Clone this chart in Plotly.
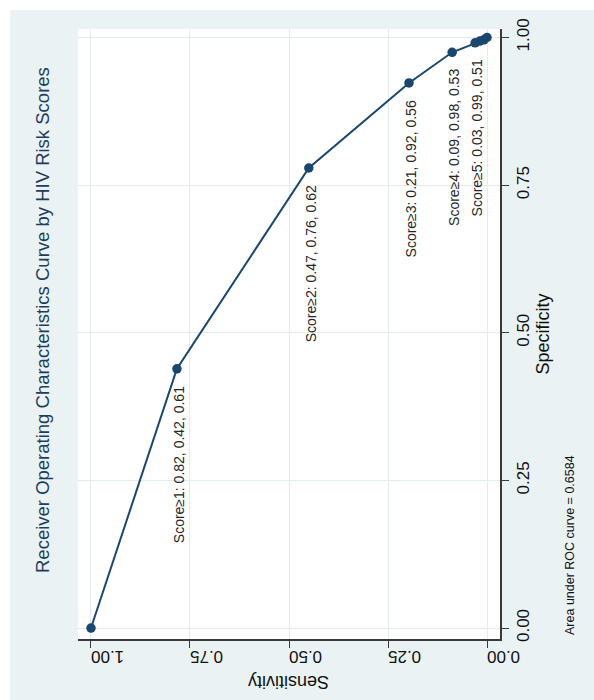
import plotly.graph_objects as go

# ---- data ----
sensitivity = [1.00, 0.783, 0.450, 0.197, 0.088, 0.030, 0.018, 0.008, 0.000]
specificity = [0.000, 0.439, 0.779, 0.923, 0.975, 0.991, 0.994, 0.996, 1.000]
label_index = [1, 2, 3, 4, 5]
label_text = [
    "Score≥1: 0.82, 0.42, 0.61",
    "Score≥2: 0.47, 0.76, 0.62",
    "Score≥3: 0.21, 0.92, 0.56",
    "Score≥4: 0.09, 0.98, 0.53",
    "Score≥5: 0.03, 0.99, 0.51",
]
tick_vals = [0.0, 0.25, 0.50, 0.75, 1.00]
tick_text = ["0.00", "0.25", "0.50", "0.75", "1.00"]
title_text = "Receiver Operating Characteristics Curve by HIV Risk Scores"
note_text = "Area under ROC curve = 0.6584"

# ---- style ----
W, H = 594, 700
ML, MR, MT, MB = 78, 94, 29, 61
PW, PH = W - ML - MR, H - MT - MB
FONT = "Liberation Sans, Arial, sans-serif"
NAVY = "#1A476F"
BG = "#EAF2F3"
GRID = "#E2EBEE"
AXIS = "#3A3A3A"


def px_x(p):
    return (p - ML) / PW


def px_y(p):
    return (H - MB - p) / PH


fig = go.Figure()
fig.add_trace(go.Scatter(
    x=sensitivity, y=specificity, mode="lines+markers",
    line=dict(color=NAVY, width=2),
    marker=dict(color=NAVY, size=9.5),
    hoverinfo="skip", showlegend=False,
))

annotations = []
for i, t in zip(label_index, label_text):
    annotations.append(dict(
        x=sensitivity[i], y=specificity[i], xref="x", yref="y",
        text=t, showarrow=False, textangle=-90,
        xanchor="center", yanchor="top", yshift=-15, xshift=2,
        font=dict(family=FONT, size=14, color="#262626"),
    ))

# chart title (vertical)
annotations.append(dict(
    x=px_x(43), y=px_y(320), xref="paper", yref="paper",
    text=title_text, showarrow=False, textangle=-90,
    xanchor="center", yanchor="middle",
    font=dict(family=FONT, size=18.5, color="#1E3D5C"),
))
# x-axis title (upside down)
annotations.append(dict(
    x=px_x(289), y=px_y(682), xref="paper", yref="paper",
    text="Sensitivity", showarrow=False, textangle=180,
    xanchor="center", yanchor="middle",
    font=dict(family=FONT, size=18, color="#111"),
))
# note
annotations.append(dict(
    x=px_x(570), y=px_y(637), xref="paper", yref="paper",
    text=note_text, showarrow=False, textangle=-90,
    xanchor="center", yanchor="bottom",
    font=dict(family=FONT, size=12.5, color="#111"),
))

shapes = [
    # white strips at top and left of the picture
    dict(type="rect", xref="paper", yref="paper", layer="below",
         x0=px_x(-5), x1=px_x(W + 5), y0=px_y(10), y1=px_y(-5),
         fillcolor="white", line=dict(width=0)),
    dict(type="rect", xref="paper", yref="paper", layer="below",
         x0=px_x(-5), x1=px_x(10), y0=px_y(H + 5), y1=px_y(-5),
         fillcolor="white", line=dict(width=0)),
]

fig.update_layout(
    width=W, height=H,
    margin=dict(l=ML, r=MR, t=MT, b=MB, pad=0),
    paper_bgcolor=BG, plot_bgcolor="white",
    font=dict(family=FONT, color="#111"),
    annotations=annotations, shapes=shapes,
    xaxis=dict(
        range=[1.0328, -0.0328], tickvals=tick_vals, ticktext=tick_text,
        tickangle=180, ticks="outside", ticklen=7, tickcolor=AXIS, tickwidth=1.2,
        showline=True, linecolor=AXIS, linewidth=1.5,
        showgrid=True, gridcolor=GRID, gridwidth=1, zeroline=False,
        tickfont=dict(family=FONT, size=17, color="#111"),
    ),
    yaxis=dict(
        side="right",
        range=[-0.0186, 1.0144], tickvals=tick_vals, ticktext=tick_text,
        tickangle=-90, ticks="outside", ticklen=7, tickcolor=AXIS, tickwidth=1.2,
        showline=True, linecolor=AXIS, linewidth=1.5,
        showgrid=True, gridcolor=GRID, gridwidth=1, zeroline=False,
        tickfont=dict(family=FONT, size=17, color="#111"),
        title=dict(text="Specificity", standoff=2,
                   font=dict(family=FONT, size=18, color="#111")),
    ),
)

fig.write_html("out.html")
